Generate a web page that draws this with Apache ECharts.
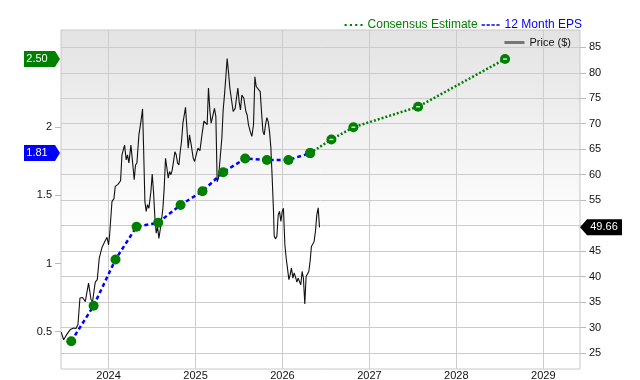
<!DOCTYPE html>
<html>
<head>
<meta charset="utf-8">
<script src="https://cdn.jsdelivr.net/npm/echarts@6/dist/echarts.min.js"></script>
<style>
  html, body { margin: 0; padding: 0; background: #fff; }
  #chart { width: 640px; height: 380px; }
</style>
</head>
<body>
<div id="chart"></div>
<script>
// x values are decimal years
var yearTicks = [2024, 2025, 2026, 2027, 2028, 2029];
var epsTicks = [0.5, 1, 1.5, 2];
var priceTicks = [25, 30, 35, 40, 45, 50, 55, 60, 65, 70, 75, 80, 85];

var epsYears = [2023.571, 2023.828, 2024.080, 2024.322, 2024.571, 2024.828, 2025.080, 2025.318, 2025.571, 2025.821, 2026.069, 2026.318];
var epsValues = [0.43, 0.69, 1.03, 1.27, 1.30, 1.43, 1.53, 1.67, 1.77, 1.76, 1.76, 1.81];

var consensusYears = [2026.318, 2026.563, 2026.816, 2027.560, 2028.560];
var consensusValues = [1.81, 1.91, 2.00, 2.15, 2.50];

var price = [
  [2023.456, 29.1], [2023.483, 27.6], [2023.522, 28.7], [2023.560, 29.6], [2023.598, 29.9],
  [2023.625, 29.8], [2023.648, 30.6], [2023.671, 35.8], [2023.701, 35.9], [2023.732, 35.1],
  [2023.770, 38.7], [2023.798, 35.5], [2023.816, 35.1], [2023.847, 38.9], [2023.870, 39.4],
  [2023.893, 43.6], [2023.924, 45.7], [2023.954, 46.8], [2023.982, 47.7], [2024.000, 46.2],
  [2024.011, 47.9], [2024.039, 54.7], [2024.062, 55.3], [2024.077, 57.7], [2024.108, 58.1],
  [2024.138, 58.8], [2024.154, 63.9], [2024.184, 65.8], [2024.203, 62.9], [2024.218, 63.9],
  [2024.234, 62.3], [2024.257, 65.8], [2024.272, 63.2], [2024.295, 59.0], [2024.310, 61.9],
  [2024.326, 62.3], [2024.349, 67.8], [2024.372, 70.4], [2024.391, 72.9], [2024.402, 65.8],
  [2024.418, 54.7], [2024.433, 52.8], [2024.448, 54.1], [2024.464, 53.4], [2024.487, 56.7],
  [2024.502, 60.1], [2024.517, 56.7], [2024.533, 51.5], [2024.548, 48.5], [2024.563, 49.8],
  [2024.579, 47.5], [2024.594, 49.2], [2024.609, 51.1], [2024.625, 53.4], [2024.640, 57.4],
  [2024.655, 63.2], [2024.671, 61.3], [2024.686, 59.3], [2024.701, 60.6], [2024.717, 60.0],
  [2024.732, 60.9], [2024.747, 62.6], [2024.763, 64.5], [2024.778, 63.9], [2024.793, 62.3],
  [2024.809, 61.9], [2024.824, 64.5], [2024.839, 66.5], [2024.855, 70.1], [2024.870, 69.8],
  [2024.885, 73.2], [2024.901, 69.1], [2024.916, 65.2], [2024.931, 67.8], [2024.951, 65.8],
  [2024.974, 63.2], [2024.989, 62.6], [2025.011, 62.4], [2025.028, 65.2], [2025.051, 64.7],
  [2025.074, 67.8], [2025.097, 70.5], [2025.120, 70.3], [2025.134, 69.8], [2025.149, 77.0],
  [2025.166, 72.4], [2025.180, 70.1], [2025.203, 69.8], [2025.218, 73.0], [2025.234, 71.4],
  [2025.249, 58.6], [2025.264, 59.3], [2025.280, 59.6], [2025.303, 67.2], [2025.318, 72.7],
  [2025.333, 75.6], [2025.349, 79.2], [2025.364, 82.8], [2025.379, 80.2], [2025.395, 77.0],
  [2025.418, 77.1], [2025.433, 72.4], [2025.456, 73.0], [2025.471, 75.0], [2025.487, 77.0],
  [2025.502, 74.3], [2025.517, 72.7], [2025.533, 75.6], [2025.556, 75.0], [2025.579, 72.4],
  [2025.594, 71.7], [2025.609, 69.8], [2025.629, 68.5], [2025.648, 67.5], [2025.667, 69.8],
  [2025.683, 79.2], [2025.698, 77.3], [2025.721, 77.1], [2025.744, 76.3], [2025.759, 72.4],
  [2025.775, 68.5], [2025.790, 67.8], [2025.805, 69.8], [2025.821, 71.2], [2025.836, 70.4],
  [2025.851, 68.5], [2025.867, 65.2], [2025.882, 59.3], [2025.897, 52.8], [2025.905, 47.9],
  [2025.920, 47.4], [2025.936, 47.9], [2025.951, 52.1], [2025.966, 52.8], [2025.982, 50.8],
  [2025.997, 52.8], [2026.011, 53.4], [2026.028, 46.2], [2026.043, 43.6], [2026.057, 41.7],
  [2026.074, 39.4], [2026.089, 40.4], [2026.103, 41.7], [2026.120, 39.7], [2026.134, 40.7],
  [2026.149, 40.0], [2026.166, 38.9], [2026.180, 39.7], [2026.195, 39.4], [2026.211, 38.4],
  [2026.226, 41.0], [2026.241, 39.7], [2026.257, 34.6], [2026.272, 40.0], [2026.287, 40.2],
  [2026.303, 41.0], [2026.318, 43.0], [2026.333, 45.9], [2026.349, 46.4], [2026.364, 46.9],
  [2026.379, 48.8], [2026.395, 52.1], [2026.411, 53.5], [2026.426, 49.66]
];

var font = 'Liberation Sans, Arial, sans-serif';

function pairs(xs, ys) {
  return xs.map(function (x, i) { return [x, ys[i]]; });
}

var chart = echarts.init(document.getElementById('chart'), null, { renderer: 'canvas' });

var option = {
  animation: false,
  backgroundColor: '#fff',
  textStyle: { fontFamily: font },
  grid: {
    left: 61, right: 60, top: 30, bottom: 11,
    containLabel: false,
    outerBoundsMode: 'none',
    show: true,
    borderColor: '#c8c8c8',
    borderWidth: 1,
    backgroundColor: new echarts.graphic.LinearGradient(0, 0, 0, 1, [
      { offset: 0, color: '#e3e3e3' },
      { offset: 0.5, color: '#fafafa' },
      { offset: 0.6, color: '#ffffff' }
    ])
  },
  legend: [
    {
      right: 53, top: 14,
      itemGap: 4, itemWidth: 18, itemHeight: 3,
      selectedMode: false,
      textStyle: { fontSize: 12, fontFamily: font },
      data: [
        { name: 'Consensus Estimate', icon: 'path://M0,0h2v2h-2zM5,0h2v2h-2zM10,0h2v2h-2zM15,0h2v2h-2z',
          itemStyle: { color: '#008000' }, textStyle: { color: '#008000' } },
        { name: '12 Month EPS', icon: 'path://M0,0h4v2h-4zM6,0h4v2h-4zM12,0h4v2h-4zM18,0h4v2h-4z',
          itemStyle: { color: '#0000ff' }, textStyle: { color: '#0000ff' } }
      ]
    },
    {
      right: 64, top: 32,
      itemWidth: 20, itemHeight: 3,
      selectedMode: false,
      textStyle: { fontSize: 11, color: '#111', fontFamily: font },
      data: [{ name: 'Price ($)', icon: 'rect', itemStyle: { color: '#777' } }]
    }
  ],
  xAxis: {
    type: 'value',
    min: 2023.453, max: 2029.422,
    axisLine: { show: false },
    axisTick: { show: false, customValues: yearTicks },
    splitLine: { show: true, lineStyle: { color: '#cccccc', width: 1 } },
    axisLabel: {
      customValues: yearTicks,
      margin: 1,
      fontSize: 11, color: '#111', fontFamily: font,
      formatter: function (v) { return String(Math.round(v)); }
    }
  },
  yAxis: [
    {
      type: 'value',
      position: 'left',
      min: 0.2265, max: 2.713,
      axisLine: { show: false },
      axisTick: { show: true, inside: false, length: 6, customValues: epsTicks, lineStyle: { color: '#bbbbbb' } },
      splitLine: { show: false },
      axisLabel: {
        customValues: epsTicks,
        margin: 9,
        fontSize: 11, color: '#111', fontFamily: font,
        formatter: function (v) { return String(v); }
      }
    },
    {
      type: 'value',
      position: 'right',
      min: 21.86, max: 88.39,
      axisLine: { show: false },
      axisTick: { show: true, inside: false, length: 6, customValues: priceTicks, lineStyle: { color: '#bbbbbb' } },
      splitLine: { show: true, lineStyle: { color: '#cccccc', width: 1 } },
      axisLabel: {
        customValues: priceTicks,
        margin: 9,
        fontSize: 11, color: '#111', fontFamily: font,
        formatter: function (v) { return String(v); }
      }
    }
  ],
  series: [
    {
      name: 'Price ($)',
      type: 'line',
      yAxisIndex: 1,
      data: price,
      symbol: 'none',
      lineStyle: { color: '#111', width: 1.1 },
      itemStyle: { color: '#777' },
      z: 2
    },
    {
      name: 'Consensus Estimate',
      type: 'line',
      yAxisIndex: 0,
      data: pairs(consensusYears, consensusValues),
      symbol: 'circle', symbolSize: 10,
      lineStyle: { color: '#008000', width: 2.5, type: [2, 2] },
      itemStyle: { color: '#008000' },
      z: 3
    },
    {
      name: 'consensusMarks',
      type: 'scatter',
      yAxisIndex: 0,
      data: pairs(consensusYears.slice(1), consensusValues.slice(1)),
      symbol: 'rect', symbolSize: [4, 1.5],
      itemStyle: { color: '#ffffff' },
      silent: true,
      z: 5
    },
    {
      name: '12 Month EPS',
      type: 'line',
      yAxisIndex: 0,
      data: pairs(epsYears, epsValues),
      symbol: 'circle', symbolSize: 10,
      lineStyle: { color: '#0000ff', width: 2.5, type: [4, 3] },
      itemStyle: { color: '#008000' },
      z: 4
    }
  ]
};

chart.setOption(option);

// value tags beside the axes
function leftTag(value, color, text) {
  var y = chart.convertToPixel({ yAxisIndex: 0 }, value);
  return [
    { type: 'polygon', shape: { points: [[24, y - 8], [55, y - 8], [60, y], [55, y + 8], [24, y + 8]] },
      style: { fill: color }, z: 100 },
    { type: 'text', x: 37, y: y, z: 101,
      style: { text: text, fill: '#fff', font: '11px ' + font, align: 'center', verticalAlign: 'middle' } }
  ];
}
function rightTag(value, color, text) {
  var y = chart.convertToPixel({ yAxisIndex: 1 }, value);
  return [
    { type: 'polygon', shape: { points: [[580, y], [587, y - 8], [622, y - 8], [622, y + 8], [587, y + 8]] },
      style: { fill: color }, z: 100 },
    { type: 'text', x: 604, y: y, z: 101,
      style: { text: text, fill: '#fff', font: '11px ' + font, align: 'center', verticalAlign: 'middle' } }
  ];
}

var lastConsensus = consensusValues[consensusValues.length - 1];
var lastEps = epsValues[epsValues.length - 1];
var lastPrice = price[price.length - 1][1];

chart.setOption({
  graphic: [].concat(
    leftTag(lastConsensus, '#008000', lastConsensus.toFixed(2)),
    leftTag(lastEps, '#0000ff', lastEps.toFixed(2)),
    rightTag(lastPrice, '#000000', lastPrice.toFixed(2))
  )
});
</script>
</body>
</html>
